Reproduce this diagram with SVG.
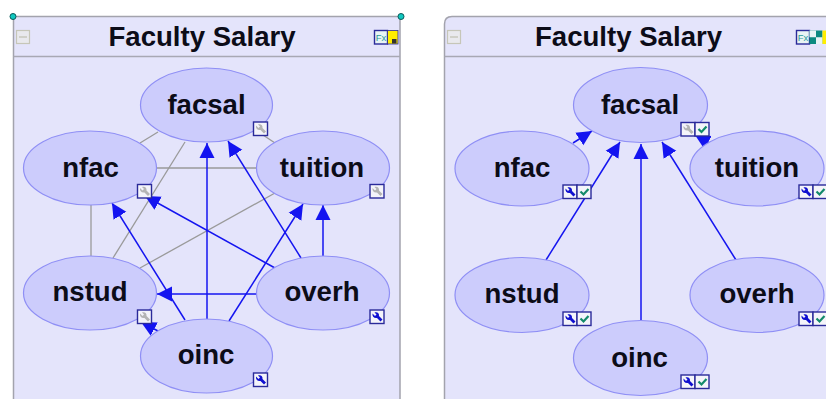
<svg xmlns="http://www.w3.org/2000/svg" xmlns:xlink="http://www.w3.org/1999/xlink" width="826" height="399" viewBox="0 0 826 399">
<style>
.panel{fill:#e4e4fb;stroke:#a3a3ad;stroke-width:1.5}
.hdr{stroke:#a8a8b4;stroke-width:1.5;fill:none}
.min{fill:#e9e9ee;stroke:#c6c6b8;stroke-width:1.2}
.node{fill:#ccccfc;stroke:#8f8ff5;stroke-width:1.2}
.t{font-family:"Liberation Sans",Arial,sans-serif;font-weight:700;fill:#0c0c18;text-anchor:middle}
.title{font-size:27.600px}
.lbl{font-size:27.600px}
.g{stroke:#9a9a9a;stroke-width:1.3;fill:none}
.b{stroke:#1414f0;stroke-width:1.5;fill:none;marker-end:url(#ah)}
.box{fill:#f4f4fa;stroke:#2a2a9a;stroke-width:1.4}
.wg{fill:#b4b4b4}
.wb{fill:#1010d0}
.chk{fill:none;stroke:#138a6a;stroke-width:2.2}
</style>
<defs>
<marker id="ah" markerUnits="userSpaceOnUse" markerWidth="16" markerHeight="16" refX="15" refY="8" orient="auto">
<path d="M0 0.500L15 8L0 15.500Z" fill="#1414f0"/>
</marker>
<path id="wr" d="M2.500 3.500L5 6L6.500 4.500L4.500 2.500C7 1.500 9.500 3 9 6L12.500 9.500L10.500 11.500L7 8C4 8.500 2 6.500 2.500 3.500Z"/>
<g id="wgray"><rect class="box" x="0" y="0" width="14" height="13.500"/><use xlink:href="#wr" class="wg"/></g>
<g id="wblue"><rect class="box" x="0" y="0" width="14" height="13.500"/><use xlink:href="#wr" class="wb"/></g>
<g id="chk"><rect class="box" x="14" y="0" width="14" height="13.500"/><path class="chk" d="M17.500 6.500L20.500 9.500L25.500 4"/></g>
<g id="fx"><rect x="0" y="0" width="13" height="13.500" fill="#e8f4f4" stroke="#2a2a9a" stroke-width="1.4"/><text x="6.500" y="10.500" font-family="Liberation Sans,Arial,sans-serif" font-size="9.500" fill="#2a9a9a" text-anchor="middle">Fx</text></g>
</defs>

<g id="panel-left">
<path class="panel" d="M13.500 402V16.500H400V402Z"/>
<path class="hdr" d="M13.500 56.500H400"/>
<rect class="min" x="16.500" y="30.500" width="13" height="13"/><path d="M19 37H27" stroke="#c0c0b0" stroke-width="1.200"/>
<text class="t title" x="202" y="46">Faculty Salary</text>
<use xlink:href="#fx" x="374.500" y="30.500"/>
<rect x="387.500" y="30.500" width="10.500" height="13.500" fill="#ffee00" stroke="#2a2a9a" stroke-width="0.800"/>
<rect x="392" y="39" width="4.500" height="4.500" fill="#333"/>
<circle cx="13" cy="16.500" r="3" fill="#10c8c0" stroke="#0a5a5a"/>
<circle cx="401" cy="16.500" r="3" fill="#10c8c0" stroke="#0a5a5a"/>
</g>

<g id="panel-right">
<path class="panel" d="M444.500 402V24Q444.500 16.500 452 16.500H830V402Z"/>
<path class="hdr" d="M444.500 56.500H830"/>
<rect class="min" x="447.500" y="30.500" width="13" height="13"/><path d="M450 37H458" stroke="#c0c0b0" stroke-width="1.200"/>
<text class="t title" x="628.500" y="46">Faculty Salary</text>
<use xlink:href="#fx" x="796.500" y="30.500"/>
<rect x="809.500" y="30.500" width="13" height="13.500" fill="#0c8a80"/>
<rect x="809.500" y="30.500" width="6.500" height="6.750" fill="#e8f4f4"/>
<rect x="816" y="37.250" width="6.500" height="6.750" fill="#e8f4f4"/>
<rect x="822.500" y="30.500" width="4" height="13.500" fill="#ffee00"/>
</g>

<g id="connectors">
<path class="g" d="M140 143L158 132"/>
<path class="g" d="M263 135L275 143"/>
<path class="g" d="M157 168H257"/>
<path class="g" d="M185 142L113 258"/>
<path class="g" d="M91 205V256"/>
<path class="g" d="M275 193L140 268"/>
<path class="b" d="M207 319V143"/>
<path class="b" d="M301 258L228 141"/>
<path class="b" d="M323 256V205"/>
<path class="b" d="M257 294H157"/>
<path class="b" d="M275 268L145 196"/>
<path class="b" d="M185 320L112 203"/>
<path class="b" d="M229 321L303 204"/>
<path class="b" d="M158 331L141 322"/>
<path class="b" d="M573 143L592 131"/>
<path class="b" d="M546 260L620 142"/>
<path class="b" d="M641 320V144"/>
<path class="b" d="M736 260L662 142"/>
<path class="b" d="M709 143L695 135"/>
</g>

<g id="l-facsal"><ellipse class="node" cx="206.500" cy="105" rx="66" ry="37"/><text class="t lbl" x="206.500" y="114">facsal</text><use xlink:href="#wgray" x="253.500" y="122"/></g>
<g id="l-nfac"><ellipse class="node" cx="90" cy="168" rx="66.500" ry="37"/><text class="t lbl" x="90.500" y="177">nfac</text><use xlink:href="#wgray" x="137.500" y="184.500"/></g>
<g id="l-tuition"><ellipse class="node" cx="323" cy="168" rx="66.500" ry="37"/><text class="t lbl" x="322" y="177">tuition</text><use xlink:href="#wgray" x="370" y="184.500"/></g>
<g id="l-nstud"><ellipse class="node" cx="90" cy="293" rx="66.500" ry="37"/><text class="t lbl" x="90" y="301">nstud</text><use xlink:href="#wgray" x="137.500" y="310"/></g>
<g id="l-overh"><ellipse class="node" cx="323" cy="293" rx="66.500" ry="37"/><text class="t lbl" x="322" y="301">overh</text><use xlink:href="#wblue" x="370" y="310"/></g>
<g id="l-oinc"><ellipse class="node" cx="206.500" cy="356" rx="66" ry="37"/><text class="t lbl" x="206" y="364">oinc</text><use xlink:href="#wblue" x="253.500" y="373"/></g>

<g id="r-facsal"><ellipse class="node" cx="640.500" cy="105" rx="67" ry="37.500"/><text class="t lbl" x="640" y="114">facsal</text><use xlink:href="#wgray" x="681" y="122.500"/><use xlink:href="#chk" x="681" y="122.500"/></g>
<g id="r-nfac"><ellipse class="node" cx="522" cy="168.500" rx="67" ry="37.500"/><text class="t lbl" x="522" y="177">nfac</text><use xlink:href="#wblue" x="563" y="185"/><use xlink:href="#chk" x="563" y="185"/></g>
<g id="r-tuition"><ellipse class="node" cx="757" cy="168.500" rx="67" ry="37.500"/><text class="t lbl" x="757" y="177">tuition</text><use xlink:href="#wblue" x="799" y="185"/><use xlink:href="#chk" x="799" y="185"/></g>
<g id="r-nstud"><ellipse class="node" cx="522" cy="295" rx="67" ry="37.500"/><text class="t lbl" x="522" y="303">nstud</text><use xlink:href="#wblue" x="563" y="312"/><use xlink:href="#chk" x="563" y="312"/></g>
<g id="r-overh"><ellipse class="node" cx="757" cy="295" rx="67" ry="37.500"/><text class="t lbl" x="757" y="303">overh</text><use xlink:href="#wblue" x="799" y="312"/><use xlink:href="#chk" x="799" y="312"/></g>
<g id="r-oinc"><ellipse class="node" cx="640.500" cy="358" rx="67" ry="37.500"/><text class="t lbl" x="639.500" y="367">oinc</text><use xlink:href="#wblue" x="681" y="375"/><use xlink:href="#chk" x="681" y="375"/></g>
</svg>
